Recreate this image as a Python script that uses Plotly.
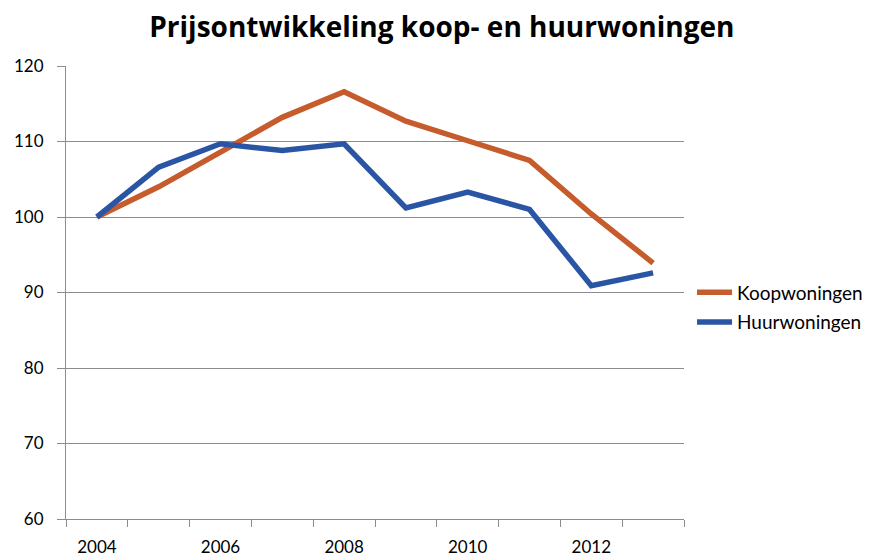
import plotly.graph_objects as go

# jaren en prijsindex (2004 = 100)
years = [2004, 2005, 2006, 2007, 2008, 2009, 2010, 2011, 2012, 2013]
koopwoningen = [100.0, 104.0, 108.6, 113.2, 116.6, 112.7, 110.1, 107.5, 100.4, 93.9]
huurwoningen = [100.0, 106.6, 109.7, 108.8, 109.7, 101.2, 103.3, 101.0, 90.9, 92.6]

label_years = [2004, 2006, 2008, 2010, 2012]

fig = go.Figure()

fig.add_trace(go.Scatter(
    x=years, y=koopwoningen, name="Koopwoningen", mode="lines",
    legendgroup="koop",
    line=dict(color="#C65B2C", width=5.5),
))
fig.add_trace(go.Scatter(
    x=years, y=huurwoningen, name="Huurwoningen", mode="lines",
    legendgroup="huur",
    line=dict(color="#2A55A5", width=5.5),
))

# pagina heeft 8px body-marge, daarom iets kleiner
fig.update_layout(
    width=880, height=551,
    margin=dict(l=58, r=204, t=58, b=40),
    paper_bgcolor="white", plot_bgcolor="white",
    font=dict(family="Lato, 'Open Sans', sans-serif", size=17, color="#000000"),
    title=dict(
        text="<b>Prijsontwikkeling koop- en huurwoningen</b>",
        x=0.493, xanchor="center", y=0.965, yanchor="middle",
        font=dict(family="'Open Sans', sans-serif", size=28, color="#000000"),
    ),
    legend=dict(
        x=1.013, xanchor="left", y=0.467, yanchor="middle",
        font=dict(size=19), tracegroupgap=2, itemwidth=35,
    ),
    showlegend=True,
)

fig.update_xaxes(
    range=[years[0] - 0.5, years[-1] + 0.5],
    tickmode="array", tickvals=label_years, ticktext=[str(y) for y in label_years],
    ticks="", showgrid=False, zeroline=False, ticklabelstandoff=13,
    automargin=False,
    showline=True, linecolor="#8C8C8C", linewidth=1,
    minor=dict(
        tickmode="array",
        tickvals=[y - 0.5 for y in years] + [years[-1] + 0.5],
        ticks="outside", ticklen=7, tickcolor="#8C8C8C", showgrid=False,
    ),
    tickfont=dict(size=17),
)

fig.update_yaxes(
    range=[60, 120], dtick=10, tick0=60,
    ticks="outside", ticklen=8, tickcolor="#8C8C8C", ticklabelstandoff=10,
    showgrid=True, gridcolor="#8C8C8C", gridwidth=1, zeroline=False,
    showline=True, linecolor="#8C8C8C", linewidth=1,
    tickfont=dict(size=17), automargin=False,
)

fig.write_html("out.html")
